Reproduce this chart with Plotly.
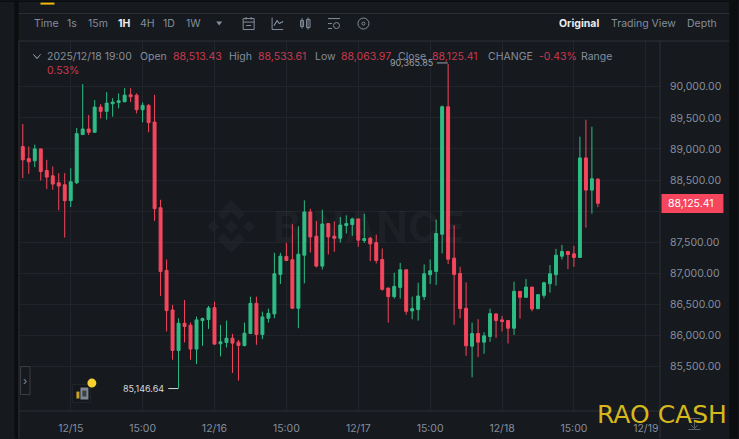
import plotly.graph_objects as go

# hourly candles (BTC, 1H)
opens = [89038, 88846, 88809, 89001, 88654, 88568, 88456, 88424, 88168, 88456, 89231, 89321, 89268, 89674, 89605, 89727,
         89749, 89759, 89872, 89866, 89631, 89701, 89434, 88055, 87046, 86410, 85758, 86196, 86164, 85780, 86239, 86255,
         86447, 85865, 85886, 85956, 85892, 85838, 86031, 86517, 86015, 86276, 86346, 86981, 87270, 87217, 86437, 87291,
         87986, 87596, 87115, 87799, 87596, 87564, 87767, 87783, 87874, 87526, 87564, 87494, 87222, 86762, 86624, 86773,
         87056, 86394, 86415, 86624, 86976, 87030, 87628, 89679, 87243, 86997, 86437, 85827, 86030, 85892, 85982, 86346,
         86250, 86239, 86116, 86709, 86613, 86778, 86431, 86645, 86832, 86976, 87275, 87350, 87313, 87254, 88856, 88338,
         88513.43]
highs = [89402, 89038, 89070, 89001, 88825, 88718, 88611, 88611, 88691, 89337, 90043, 89546, 89786, 89722, 89914, 89818,
         89893, 89978, 89978, 89893, 89749, 89722, 89872, 88183, 87222, 86490, 86276, 86570, 86207, 86303, 86287, 86474,
         86543, 86169, 86239, 86025, 85929, 86207, 86624, 86624, 86383, 86431, 87329, 87329, 87489, 87788, 87756, 88173,
         88039, 87842, 88023, 87809, 87836, 87906, 87932, 87895, 87879, 87959, 87585, 87623, 87398, 86768, 87008, 87168,
         87062, 86624, 86848, 87142, 87222, 87863, 89700, 90365.85, 87772, 87104, 86853, 86207, 86260, 86052, 86431, 86351,
         86314, 86239, 86864, 86714, 86907, 86778, 86661, 86864, 87131, 87393, 87457, 87361, 87441, 89198, 89471, 89359,
         88533.61]
lows = [88531, 88600, 88707, 88493, 88355, 88344, 88013, 87575, 88066, 88435, 89231, 89225, 89268, 89492, 89471, 89519,
        89653, 89754, 89754, 89572, 89428, 89268, 87842, 86634, 86063, 85609, 85146.64, 85886, 85609, 85539, 85833, 86105,
        85849, 85662, 85806, 85395, 85272, 85822, 86025, 85849, 85940, 86207, 86276, 86827, 87200, 86426, 86116, 86837,
        87334, 87094, 87062, 87302, 87345, 87494, 87639, 87601, 87425, 87489, 87195, 87158, 86720, 86207, 86592, 86592,
        86335, 86260, 86239, 86570, 86827, 86811, 87318, 87147, 86169, 86276, 85673, 85325, 85651, 85705, 85897, 85961,
        86063, 85870, 86009, 86271, 86608, 86388, 86420, 86597, 86688, 86800, 87222, 87067, 87104, 87254, 87735, 87959,
        88063.97]
closes = [88825, 88793, 89001, 88638, 88547, 88435, 88403, 88168, 88472, 89247, 89321, 89268, 89674, 89605, 89738, 89754,
          89775, 89866, 89840, 89631, 89701, 89423, 88039, 87030, 86399, 85758, 86196, 86143, 85780, 86250, 86271, 86442,
          85860, 85897, 85956, 85876, 85838, 86036, 86517, 86015, 86298, 86356, 86992, 87275, 87206, 86437, 87307, 87986,
          87585, 87115, 87793, 87585, 87564, 87777, 87799, 87874, 87532, 87558, 87473, 87206, 86741, 86624, 86789, 87056,
          86388, 86431, 86634, 86992, 87040, 87639, 89679, 87227, 86981, 86431, 85833, 86030, 85892, 85993, 86351, 86239,
          86223, 86116, 86709, 86613, 86778, 86426, 86656, 86848, 86992, 87291, 87350, 87302, 87254, 88856, 88338, 88520,
          88125.41]
candle_index = list(range(len(opens)))

date_ticks = [8, 20, 32, 44, 56, 68, 80, 92, 104]
date_labels = ["12/15", "15:00", "12/16", "15:00", "12/17", "15:00", "12/18", "15:00", "12/19"]
price_ticks = [85500, 86000, 86500, 87000, 87500, 88000, 88500, 89000, 89500, 90000]
# 88,000.00 sits behind the last price tag in the original
price_labels = ["85,500.00", "86,000.00", "86,500.00", "87,000.00", "87,500.00", "", "88,500.00", "89,000.00",
                "89,500.00", "90,000.00"]

BG = "#16191e"
GRID = "#21252b"
EDGE = "#2c3036"
GREEN = "#2ebd85"
RED = "#f6465d"
GREY = "#848e9c"
DIM_RED = "#c9394f"
LOGO = "#1d2026"
FONT = "Inter"

# plot area in screen pixels
LEFT, RIGHT, TOP, BOTTOM = 18.5, 660.5, 40.5, 411.5


def px_x(x):
    return (x - LEFT) / (RIGHT - LEFT)


def px_y(y):
    return (BOTTOM - y) / (BOTTOM - TOP)


def label(x, y, text, color=GREY, size=10.5, bold=False, anchor="left", family=FONT):
    return dict(x=px_x(x), y=px_y(y), xref="paper", yref="paper", text=f"<b>{text}</b>" if bold else text,
                showarrow=False, xanchor=anchor, yanchor="middle", borderpad=0,
                font=dict(family=family, size=size, color=color))


def rect(x0, y0, x1, y1, fill, layer="above"):
    return dict(type="rect", xref="paper", yref="paper", x0=px_x(x0), x1=px_x(x1), y0=px_y(y0), y1=px_y(y1),
                fillcolor=fill, line_width=0, layer=layer)


def seg(x0, y0, x1, y1, color=GREY, width=1):
    return dict(type="line", xref="paper", yref="paper", x0=px_x(x0), x1=px_x(x1), y0=px_y(y0), y1=px_y(y1),
                line=dict(color=color, width=width))


def outline(x0, y0, x1, y1, color=GREY, width=1, kind="rect"):
    return dict(type=kind, xref="paper", yref="paper", x0=px_x(x0), x1=px_x(x1), y0=px_y(y0), y1=px_y(y1),
                line=dict(color=color, width=width), fillcolor="rgba(0,0,0,0)")


def poly(points, fill=None, color=None, layer="above"):
    path = "M " + " L ".join(f"{px_x(x):.5f},{px_y(y):.5f}" for x, y in points) + " Z"
    return dict(type="path", xref="paper", yref="paper", path=path, fillcolor=fill or "rgba(0,0,0,0)",
                line=dict(color=color or "rgba(0,0,0,0)", width=1), layer=layer)


fig = go.Figure(go.Candlestick(
    x=candle_index, open=opens, high=highs, low=lows, close=closes, whiskerwidth=0,
    increasing=dict(line=dict(color=GREEN, width=1), fillcolor=GREEN),
    decreasing=dict(line=dict(color=RED, width=1), fillcolor=RED),
    hoverinfo="skip", showlegend=False,
))

annotations = [
    # toolbar
    label(33, 23, "Time"), label(66, 23, "1s"), label(87, 23, "15m"),
    label(117, 23, "1H", color="#eaecef", bold=True), label(139, 23, "4H"), label(162, 23, "1D"), label(185, 23, "1W"),
    label(558, 23, "Original", color="#eaecef", bold=True), label(610, 23, "Trading View"), label(687, 23, "Depth"),
    # ohlc header
    label(45.5, 56, "2025/12/18 19:00"), label(139, 56, "Open"), label(172, 56, "88,513.43", color=DIM_RED),
    label(228, 56, "High"), label(257, 56, "88,533.61", color=DIM_RED), label(314, 56, "Low"),
    label(340, 56, "88,063.97", color=DIM_RED), label(397, 56, "Close"), label(431, 56, "88,125.41", color=DIM_RED),
    label(487, 56, "CHANGE"), label(538, 56, "-0.43%", color=DIM_RED), label(580, 56, "Range"),
    label(45.5, 70, "0.53%", color=DIM_RED),
    # extremes
    label(434, 62, "90,365.85", color="#9aa1ab", size=9, anchor="right"),
    label(165, 389, "85,146.64", color="#d5d8dc", size=9, anchor="right"),
    # watermark
    label(272, 226, "BINANCE", color="rgba(255,255,255,0.04)", size=42, bold=True),
    # last price tag
    label(691.5, 203.5, "88,125.41", color="#ffffff", size=10.5, anchor="center"),
    label(25, 381, "›", size=11, anchor="center"),
    # overlay text on the screenshot
    label(596, 415, "RAO CASH", color="#d6b81d", size=25, family="DejaVu Sans"),
]

shapes = [
    # frame around the panel
    rect(14, 0, 18, 439, "#0c0d0f"), rect(730, 0, 739, 439, "#0c0d0f"), rect(0, 0, 739, 1.5, "#0c0d0f"),
    rect(40, 2, 54, 4, "#f0b90b"),
    seg(18, 13, 730, 13, EDGE), seg(18, 40.5, 730, 40.5, EDGE), seg(18.5, 40.5, 18.5, 439, EDGE),
    seg(18.5, 411.5, 660.5, 411.5, EDGE), seg(660.5, 40.5, 660.5, 439, EDGE),
    # last price tag and extreme leaders
    rect(662, 194, 724, 213, RED),
    seg(437, 62.5, 448, 62.5, "#9aa1ab"), seg(168, 389, 178, 389, "#d5d8dc"),
    # chevron and dropdown
    poly([(33, 54), (36.5, 58), (40, 54), (36.5, 58)], color=GREY),
    poly([(216, 21), (222, 21), (219, 25)], fill=GREY),
    # toolbar icons
    outline(243, 18, 254, 29), seg(243, 21.5, 254, 21.5), seg(246, 16.5, 246, 19), seg(251, 16.5, 251, 19),
    seg(246, 25, 251, 25),
    seg(272, 17, 272, 29), seg(272, 29, 283, 29), poly([(274, 25), (277, 20), (279, 23), (283, 21), (279, 23), (277, 20)], color=GREY),
    outline(300.5, 20, 303.5, 26), outline(306.5, 19, 310, 27), seg(302, 17.5, 302, 28), seg(308, 17, 308, 29),
    seg(328, 18, 340, 18), seg(328, 23, 332, 23), seg(328, 28, 332, 28), outline(333.5, 22, 339.5, 28, kind="circle"),
    outline(358, 17.5, 369, 28.5, kind="circle"), outline(362, 21.5, 365, 24.5, kind="circle"),
    # side tab
    dict(type="rect", xref="paper", yref="paper", x0=px_x(20), x1=px_x(29.5), y0=px_y(367), y1=px_y(395),
         line=dict(color="#3a3f46", width=1), fillcolor=BG),
    # bottom left widget
    dict(type="rect", xref="paper", yref="paper", x0=px_x(72), x1=px_x(90), y0=px_y(385), y1=px_y(403),
         line=dict(color="#22262c", width=1), fillcolor="#14171b"),
    rect(80, 388, 88, 400, "#7f8791"), rect(82, 391, 86, 397, "#3b4047"), rect(76, 392, 79, 399, "#c9a227"),
    dict(type="circle", xref="paper", yref="paper", x0=px_x(87), x1=px_x(96), y0=px_y(379), y1=px_y(388),
         fillcolor="#f8d12f", line_width=0),
    # download icon under the axis
    seg(689, 419, 701, 419, "#5e6670"), seg(695, 421, 695, 428, "#5e6670"), seg(689, 430, 701, 430, "#5e6670"),
    poly([(692, 426), (695, 429), (698, 426), (695, 429)], color="#5e6670"),
    # faint exchange logo behind the candles
    poly([(231, 200), (245, 214), (239, 220), (231, 212), (223, 220), (217, 214)], fill=LOGO, layer="below"),
    poly([(231, 219.5), (238, 226.5), (231, 233.5), (224, 226.5)], fill=LOGO, layer="below"),
    poly([(213, 220.5), (219, 226.5), (213, 232.5), (207, 226.5)], fill=LOGO, layer="below"),
    poly([(249, 220.5), (255, 226.5), (249, 232.5), (243, 226.5)], fill=LOGO, layer="below"),
    poly([(231, 253), (245, 239), (239, 233), (231, 241), (223, 233), (217, 239)], fill=LOGO, layer="below"),
]

fig.update_layout(
    width=739, height=439, autosize=False,
    margin=dict(l=LEFT, r=739 - RIGHT, t=TOP, b=439 - BOTTOM, pad=0, autoexpand=False),
    paper_bgcolor=BG, plot_bgcolor=BG,
    font=dict(family=FONT, size=10.5, color=GREY),
    showlegend=False, hovermode=False,
    annotations=annotations, shapes=shapes,
    xaxis=dict(range=[-0.633, 106.367], tickmode="array", tickvals=date_ticks, ticktext=date_labels,
               rangeslider=dict(visible=False), showgrid=True, gridcolor=GRID, gridwidth=1, zeroline=False,
               ticks="outside", ticklen=7, tickcolor=BG, showline=False, fixedrange=True, automargin=False),
    yaxis=dict(range=[84784, 90737], side="right", tickmode="array", tickvals=price_ticks, ticktext=price_labels,
               showgrid=True, gridcolor=GRID, gridwidth=1, zeroline=False, ticks="outside", ticklen=7,
               tickcolor=BG, showline=False, fixedrange=True, automargin=False),
)

# the page has a default body margin that would push the chart off by 8px
fig.write_html("out.html", config=dict(displayModeBar=False),
               post_script="document.body.style.margin='0';document.body.style.background='#16191e';")
